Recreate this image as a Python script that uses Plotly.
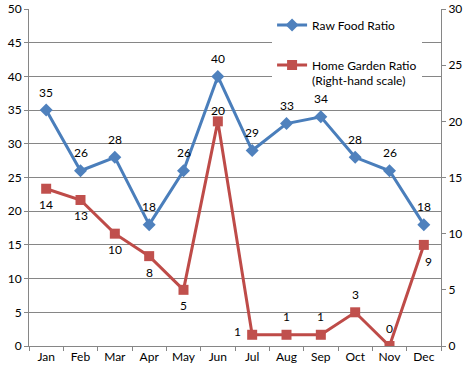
import plotly.graph_objects as go

months = ["Jan", "Feb", "Mar", "Apr", "May", "Jun", "Jul", "Aug", "Sep", "Oct", "Nov", "Dec"]
raw_food = [35, 26, 28, 18, 26, 40, 29, 33, 34, 28, 26, 18]
home_garden = [14, 13, 10, 8, 5, 20, 1, 1, 1, 3, 0, 9]

left_ticks = list(range(0, 55, 5))
right_ticks = list(range(0, 35, 5))

# label placement (style, not data)
raw_place = ["above"] * 12
garden_place = ["below"] * 5 + ["above_close", "left", "above", "above", "above", "above", "below_right"]
shift = {
    "above": (0, 18),
    "above_close": (0, 11),
    "below": (0, -16),
    "left": (-15, 3),
    "below_right": (5, -17),
}

FONT = "Lato"
BLUE = "#4A7EBB"
RED = "#BE4B48"
GRID = "#868686"

fig = go.Figure()
fig.add_trace(go.Scatter(
    x=months, y=raw_food, name="Raw Food Ratio", mode="lines+markers",
    line=dict(color=BLUE, width=3),
    marker=dict(symbol="diamond", size=10, color="#4F81BD"),
    yaxis="y", legendgroup="a",
))
fig.add_trace(go.Scatter(
    x=months, y=home_garden, name="Home Garden Ratio<br>(Right-hand scale)", mode="lines+markers",
    line=dict(color=RED, width=3),
    marker=dict(symbol="square", size=10, color="#C0504D"),
    yaxis="y2", legendgroup="b",
))

anns = []
for m, v, p in zip(months, raw_food, raw_place):
    dx, dy = shift[p]
    anns.append(dict(x=m, y=v, xref="x", yref="y", text=str(v), showarrow=False,
                     xshift=dx, yshift=dy, font=dict(family=FONT, size=12, color="#000")))
for m, v, p in zip(months, home_garden, garden_place):
    dx, dy = shift[p]
    anns.append(dict(x=m, y=v, xref="x", yref="y2", text=str(v), showarrow=False,
                     xshift=dx, yshift=dy, font=dict(family=FONT, size=12, color="#000")))

fig.update_layout(
    width=469, height=373,
    margin=dict(l=29, r=28, t=9, b=27, autoexpand=False),
    paper_bgcolor="white", plot_bgcolor="white",
    font=dict(family=FONT, size=12, color="#000"),
    annotations=anns,
    showlegend=True,
    legend=dict(
        x=0.59, y=0.995, xanchor="left", yanchor="top",
        bgcolor="white", borderwidth=0,
        font=dict(family=FONT, size=12, color="#000"),
        traceorder="grouped", tracegroupgap=21, valign="top",
        itemwidth=30,
    ),
    xaxis=dict(
        type="category", range=[-0.5, 11.5],
        showline=True, linecolor=GRID, linewidth=1,
        ticks="outside", ticklen=4, tickcolor=GRID, tickson="boundaries",
        showgrid=False, zeroline=False, fixedrange=True,
    ),
    yaxis=dict(
        range=[0, 50], tickvals=left_ticks,
        showline=True, linecolor=GRID, linewidth=1,
        ticks="outside", ticklen=4, tickcolor=GRID,
        showgrid=True, gridcolor=GRID, gridwidth=1, zeroline=False,
    ),
    yaxis2=dict(
        range=[0, 30], tickvals=right_ticks, overlaying="y", side="right",
        showline=True, linecolor=GRID, linewidth=1,
        ticks="outside", ticklen=4, tickcolor=GRID,
        showgrid=False, zeroline=False,
    ),
)

fig.write_html("out.html", config={"displayModeBar": False})

with open("out.html", "r", encoding="utf-8") as f:
    html = f.read()
html = html.replace("<body>", '<body style="margin:0;padding:0;overflow:hidden">', 1)
with open("out.html", "w", encoding="utf-8") as f:
    f.write(html)
